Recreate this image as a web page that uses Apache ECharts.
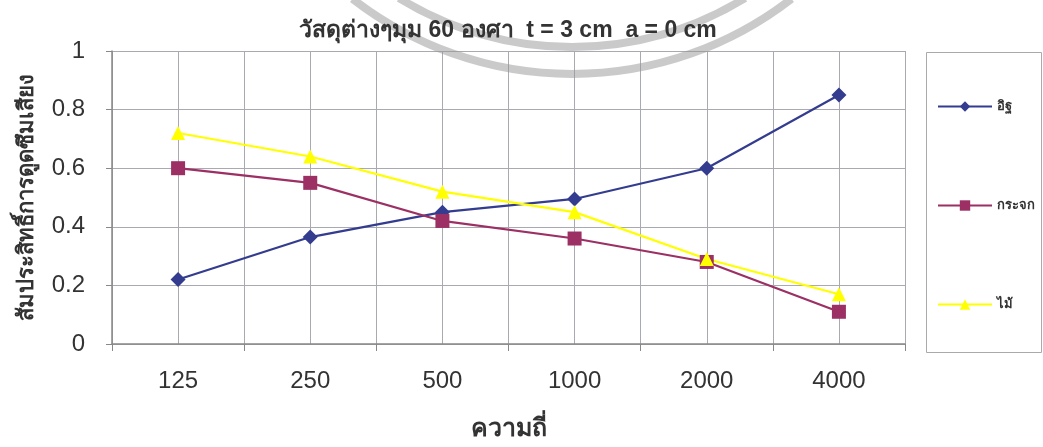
<!DOCTYPE html>
<html><head><meta charset="utf-8">
<script src="https://cdn.jsdelivr.net/npm/echarts@6/dist/echarts.min.js"></script>
<style>html,body{margin:0;padding:0;background:#fff}#c{width:1043px;height:447px}</style>
</head><body><div id="c"></div>
<script>
var categories = ['125', '250', '500', '1000', '2000', '4000'];
var brick = [0.22, 0.365, 0.45, 0.495, 0.60, 0.85];
var glass = [0.60, 0.55, 0.42, 0.36, 0.28, 0.11];
var wood = [0.72, 0.64, 0.52, 0.45, 0.29, 0.17];
var seriesNames = ['อิฐ', 'กระจก', 'ไม้'];
var yTicks = [0, 0.2, 0.4, 0.6, 0.8, 1];

var chart = echarts.init(document.getElementById('c'));
var font = 'Arial, "Liberation Sans", sans-serif';
var colors = ['#333c8f', '#9c2f63', '#ffff00'];
function mk(name, data, sym, size, color) {
  return {
    name: name, type: 'line', data: data, symbol: sym, symbolSize: size,
    xAxisIndex: 0, yAxisIndex: 0, z: 5,
    lineStyle: { color: color, width: 2.2 },
    itemStyle: { color: color },
    emphasis: { disabled: true }, animation: false
  };
}
chart.setOption({
  animation: false,
  textStyle: { fontFamily: font },
  title: {
    text: 'วัสดุต่างๆมุม 60 องศา  t = 3 cm  a = 0 cm',
    left: 503, textAlign: 'center', top: 14,
    textStyle: { fontSize: 23, fontWeight: 'bold', color: '#333', fontFamily: font }
  },
  grid: { left: 112, right: 138, top: 51, bottom: 101 },
  graphic: [{
    type: 'arc', silent: true, z: 1,
    shape: { cx: 572, cy: -284, r: 358, startAngle: Math.PI / 2 - 0.66, endAngle: Math.PI / 2 + 0.66 },
    style: { fill: 'none', stroke: 'rgba(150,150,150,0.5)', lineWidth: 8 }
  }, {
    type: 'arc', silent: true, z: 1,
    shape: { cx: 572, cy: -284, r: 331, startAngle: Math.PI / 2 - 0.55, endAngle: Math.PI / 2 + 0.55 },
    style: { fill: 'none', stroke: 'rgba(150,150,150,0.5)', lineWidth: 8 }
  }, {
    type: 'rect', shape: { x: 926.5, y: 52.5, width: 115, height: 300 },
    style: { fill: 'none', stroke: '#aaa', lineWidth: 1 }, silent: true
  }],
  legend: {
    orient: 'vertical', left: 932, top: 95, itemGap: 86,
    itemWidth: 54, itemHeight: 13,
    data: seriesNames,
    textStyle: { fontSize: 13, fontWeight: 'bold', color: '#333', fontFamily: font }
  },
  xAxis: [{
    type: 'category', data: categories, boundaryGap: true,
    name: 'ความถี่', nameLocation: 'middle', nameGap: 73,
    nameTextStyle: { fontSize: 25, fontWeight: 'bold', color: '#333', fontFamily: font },
    axisLine: { lineStyle: { color: '#888', width: 1.5 } },
    axisTick: { show: true, alignWithLabel: false, length: 7, lineStyle: { color: '#888' } },
    axisLabel: { fontSize: 24, color: '#333', margin: 25, fontFamily: font },
    splitLine: { show: false }
  }, {
    type: 'value', min: 0, max: 12, interval: 1, show: true,
    axisLine: { show: false }, axisTick: { show: false }, axisLabel: { show: false },
    splitLine: { show: true, lineStyle: { color: '#a9a9b2', width: 1 } }
  }],
  yAxis: {
    type: 'value', min: 0, max: 1, interval: 0.2,
    name: 'สัมประสิทธิ์การดูดซึมเสียง', nameLocation: 'middle', nameGap: 74,
    nameTextStyle: { fontSize: 22, fontWeight: 'bold', color: '#333', fontFamily: font },
    axisLine: { show: true, lineStyle: { color: '#888', width: 1.5 } },
    axisTick: { show: true, length: 6, lineStyle: { color: '#888' } },
    axisLabel: {
      fontSize: 24, color: '#333', margin: 27, fontFamily: font,
      formatter: function (v) { var t = yTicks.find(function (x) { return Math.abs(x - v) < 1e-9; }); return t === undefined ? '' : String(t); }
    },
    splitLine: { show: true, lineStyle: { color: '#a9a9b2', width: 1 } }
  },
  series: [
    mk(seriesNames[0], brick, 'diamond', 15, colors[0]),
    mk(seriesNames[1], glass, 'rect', 14, colors[1]),
    mk(seriesNames[2], wood, 'triangle', 14, colors[2])
  ]
});
</script></body></html>
